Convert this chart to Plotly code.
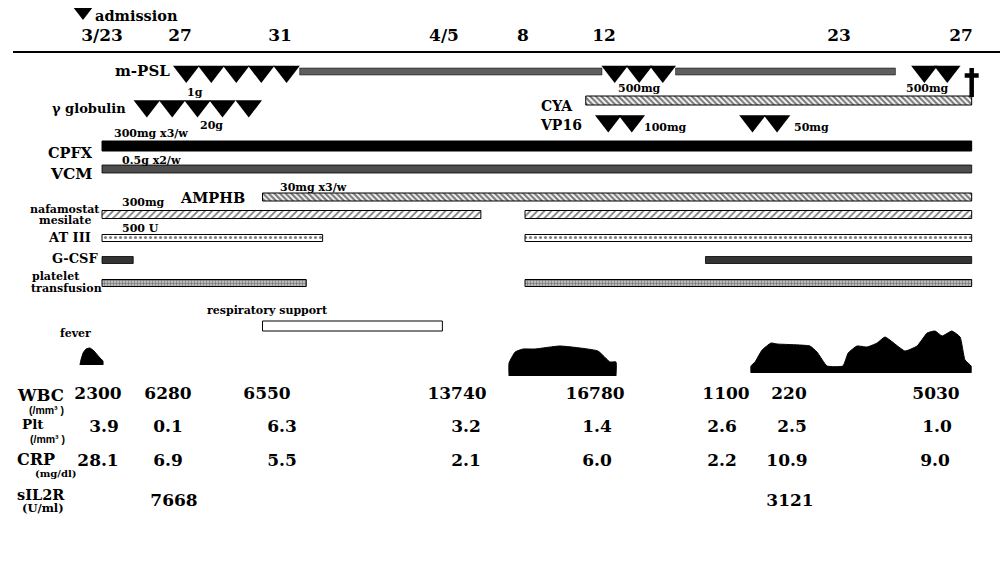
import numpy as np
import plotly.graph_objects as go

# ---------------- data (days counted from 3/23 = day 0) ----------------
TICK_DAYS = [0, 4, 8, 13, 16, 20, 31, 35]
TICK_TEXT = ["3/23", "27", "31", "4/5", "8", "12", "23", "27"]

MPSL_PULSE_DAYS = [4.25, 5.25, 6.25, 7.25, 8.2, 20.5, 21.65, 22.75, 33.8, 34.55]
MPSL_BAR_START = [8.6, 23.35]
MPSL_BAR_END = [19.9, 32.85]
GLOBULIN_DAYS = [2.3, 3.6, 4.7, 5.7, 6.75]
VP16_DAYS = [20.2, 21.3, 26.95, 28.1]
DEATH_DAY = 35.35

CYA_START, CYA_END = [19.1], [35.35]
CPFX_START, CPFX_END = [0], [35.35]
VCM_START, VCM_END = [0], [35.35]
AMPHB_START, AMPHB_END = [7.3], [35.35]
NAFA_START, NAFA_END = [0, 16.1], [14.4, 35.35]
AT3_START, AT3_END = [0, 16.1], [9.3, 35.35]
GCSF_START, GCSF_END = [0, 24.75], [1.6, 35.35]
PLTX_START, PLTX_END = [0, 16.1], [8.8, 35.35]
RESP_START, RESP_END = [7.3], [12.95]

# fever episodes: day and relative fever level
FEVER1_DAYS = [-1.13, -1.08, -0.97, -0.82, -0.62, -0.41, -0.15, 0.05, 0.05]
FEVER1_LEVEL = [0, 0.5, 1.2, 1.6, 1.7, 1.4, 0.8, 0.4, 0]
FEVER2_DAYS = [15.47, 15.47, 15.70, 16.0, 16.59, 17.83, 19.70, 20.28, 20.56, 20.56]
FEVER2_LEVEL = [0, 1.3, 2.4, 2.7, 2.7, 3.0, 2.5, 1.4, 1.4, 0]
FEVER3_DAYS = [26.88, 26.88, 27.07, 27.40, 27.82, 28.10, 29.64, 29.97, 30.44, 31.13, 31.30,
               31.59, 31.92, 32.25, 32.51, 33.16, 33.56, 33.89, 34.15, 34.38, 34.70, 34.97,
               35.13, 35.33, 35.33]
FEVER3_LEVEL = [0, 0.7, 1.1, 2.3, 3.0, 2.9, 2.7, 2.1, 0.7, 0.7, 2.0, 2.7, 2.6, 3.0, 3.6,
                2.2, 2.7, 4.0, 4.2, 3.7, 4.2, 3.6, 1.3, 0.7, 0]

WBC = [2300, 6280, 6550, 13740, 16780, 1100, 220, 5030]
PLT = [3.9, 0.1, 6.3, 3.2, 1.4, 2.6, 2.5, 1.0]
CRP = [28.1, 6.9, 5.5, 2.1, 6.0, 2.2, 10.9, 9.0]
SIL2R = [None, 7668, None, None, None, None, 3121, None]

# ---------------- layout constants (hand-drawn timeline scale) ----------------
TICK_X = [102, 180, 280, 444, 523, 604, 839, 961]
SERIF = "DejaVu Serif"
SANS = "Liberation Sans"


def sx(d):
    d = np.asarray(d, dtype=float)
    x = np.interp(d, TICK_DAYS, TICK_X)
    s0 = (TICK_X[1] - TICK_X[0]) / (TICK_DAYS[1] - TICK_DAYS[0])
    s1 = (TICK_X[-1] - TICK_X[-2]) / (TICK_DAYS[-1] - TICK_DAYS[-2])
    x = np.where(d < TICK_DAYS[0], TICK_X[0] + (d - TICK_DAYS[0]) * s0, x)
    x = np.where(d > TICK_DAYS[-1], TICK_X[-1] + (d - TICK_DAYS[-1]) * s1, x)
    return x


fig = go.Figure()


def add_bars(starts, ends, yc, h, color="white", pattern=None, line_w=1):
    x0 = sx(starts)
    x1 = sx(ends)
    marker = dict(color=color, line=dict(color="black", width=line_w))
    if pattern:
        marker["pattern"] = pattern
    fig.add_trace(go.Bar(orientation="h", y=[yc] * len(x0), x=x1 - x0, base=x0,
                         width=h, marker=marker, hoverinfo="skip", showlegend=False))


def add_tri(days, yc, size=23):
    fig.add_trace(go.Scatter(x=sx(days), y=[yc] * len(days), mode="markers",
                             marker=dict(symbol="triangle-down", size=size, color="black",
                                         line=dict(width=0)),
                             hoverinfo="skip", showlegend=False))


# bars
add_bars(MPSL_BAR_START, MPSL_BAR_END, 71.5, 7, color="#5e5e5e", line_w=0.5)
add_bars(CYA_START, CYA_END, 100.5, 9,
         pattern=dict(shape="\\", fgcolor="black", bgcolor="white", size=4, solidity=0.55))
add_bars(CPFX_START, CPFX_END, 146, 10, color="black")
add_bars(VCM_START, VCM_END, 169, 8, color="#4d4d4d", line_w=0.8)
add_bars(AMPHB_START, AMPHB_END, 197, 8,
         pattern=dict(shape="\\", fgcolor="black", bgcolor="white", size=4, solidity=0.6))
add_bars(NAFA_START, NAFA_END, 214.5, 8,
         pattern=dict(shape="/", fgcolor="black", bgcolor="white", size=5, solidity=0.35))
add_bars(AT3_START, AT3_END, 238, 7,
         pattern=dict(shape=".", fgcolor="black", bgcolor="white", size=5, solidity=0.3))
add_bars(GCSF_START, GCSF_END, 260, 7, color="#333333", line_w=0.8)
add_bars(PLTX_START, PLTX_END, 283, 7,
         pattern=dict(shape="+", fgcolor="#222222", bgcolor="#bbbbbb", size=3, solidity=0.35))
add_bars(RESP_START, RESP_END, 326, 10, color="white")

# pulses
add_tri(MPSL_PULSE_DAYS, 71.5)
add_tri(GLOBULIN_DAYS, 106)
add_tri(VP16_DAYS, 121)

# admission marker
fig.add_trace(go.Scatter(x=[83], y=[12], mode="markers",
                         marker=dict(symbol="triangle-down", size=16, color="black"),
                         hoverinfo="skip", showlegend=False))

# death dagger
xd = float(sx([DEATH_DAY])[0])
fig.add_trace(go.Scatter(x=[xd, xd, None, xd - 7, xd + 7], y=[68, 97, None, 75.5, 75.5],
                         mode="lines", line=dict(color="black", width=4.5),
                         hoverinfo="skip", showlegend=False))

# fever
for days, lev, base in [(FEVER1_DAYS, FEVER1_LEVEL, 365),
                        (FEVER2_DAYS, FEVER2_LEVEL, 376),
                        (FEVER3_DAYS, FEVER3_LEVEL, 373)]:
    fig.add_trace(go.Scatter(x=sx(days), y=[base - 10 * v for v in lev], mode="lines",
                             fill="toself", fillcolor="black",
                             line=dict(color="black", width=1, shape="spline", smoothing=0.4),
                             hoverinfo="skip", showlegend=False))

# lab table values
LAB_Y = {"WBC": 395, "PLT": 428, "CRP": 462, "SIL2R": 502}
LAB_X = {
    "WBC": [98, 168, 267, 457, 595, 726, 789, 936],
    "PLT": [104, 168, 282, 466, 597, 722, 792, 937],
    "CRP": [98, 168, 282, 466, 597, 722, 787, 935],
    "SIL2R": [98, 174, 282, 466, 597, 722, 790, 935],
}
for key, vals, fmt in [("WBC", WBC, "{:d}"), ("PLT", PLT, "{:.1f}"),
                       ("CRP", CRP, "{:.1f}"), ("SIL2R", SIL2R, "{:d}")]:
    xs, ts = [], []
    for x, v in zip(LAB_X[key], vals):
        if v is None:
            continue
        xs.append(x)
        ts.append(fmt.format(v))
    fig.add_trace(go.Scatter(x=xs, y=[LAB_Y[key]] * len(xs), mode="text", text=ts,
                             textposition="middle center",
                             textfont=dict(family=SERIF, size=17, color="black", weight="bold"),
                             hoverinfo="skip", showlegend=False))

# labels
LABELS = [
    ("admission", 93, 15, "left", 14.5, SERIF),
    ("m-PSL", 172, 71, "right", 15, SERIF),
    ("1g", 195, 92, "center", 11, SERIF),
    ("γ globulin", 128, 108, "right", 13, SERIF),
    ("20g", 211, 125, "center", 11, SERIF),
    ("500mg", 639, 88, "center", 11, SERIF),
    ("500mg", 927, 88, "center", 11, SERIF),
    ("CYA", 557, 106, "center", 14, SERIF),
    ("VP16", 561, 125, "center", 14, SERIF),
    ("100mg", 642, 127, "left", 11, SERIF),
    ("50mg", 792, 127, "left", 11, SERIF),
    ("300mg x3/w", 112, 133, "left", 11, SERIF),
    ("CPFX", 95, 152, "right", 14.5, SERIF),
    ("0.5g x2/w", 120, 160, "left", 11, SERIF),
    ("VCM", 95, 173, "right", 15.5, SERIF),
    ("30mg x3/w", 278, 187, "left", 11, SERIF),
    ("AMPHB", 212, 197, "center", 14.5, SERIF),
    ("300mg", 120, 202, "left", 11, SERIF),
    ("nafamostat", 102, 209, "right", 11, SERIF),
    ("mesilate", 93, 220, "right", 11, SERIF),
    ("500 U", 120, 228, "left", 11, SERIF),
    ("AT III", 93, 237, "right", 13, SERIF),
    ("G-CSF", 100, 258, "right", 13, SERIF),
    ("platelet", 30, 276, "left", 11, SERIF),
    ("transfusion", 29, 288, "left", 11, SERIF),
    ("respiratory support", 267, 310, "center", 11, SERIF),
    ("fever", 75, 333, "center", 11, SERIF),
    ("WBC", 15, 395, "left", 16.5, SERIF),
    ("(/mm³ )", 27, 410, "left", 10.5, SANS),
    ("Plt", 20, 424, "left", 13.5, SERIF),
    ("(/mm³ )", 28, 439, "left", 10.5, SANS),
    ("CRP", 15, 459, "left", 16, SERIF),
    ("(mg/dl)", 33, 473, "left", 10, SERIF),
    ("sIL2R", 15, 494, "left", 14.5, SERIF),
    ("(U/ml)", 20, 508, "left", 11.5, SERIF),
]
for text, x, y, xa, size, fam in LABELS:
    fig.add_annotation(x=x, y=y, text=text, showarrow=False, xanchor=xa, yanchor="middle",
                       font=dict(family=fam, size=size, color="black", weight="bold"))

fig.update_layout(
    width=1000, height=564,
    margin=dict(l=13, r=0, t=0, b=0),
    plot_bgcolor="white", paper_bgcolor="white",
    barmode="overlay", showlegend=False,
    xaxis=dict(range=[13, 1000], side="top", anchor="free", position=1 - 52 / 564,
               showline=True, linecolor="black", linewidth=2,
               tickvals=list(sx(TICK_DAYS)), ticktext=TICK_TEXT,
               ticks="outside", ticklen=3, tickcolor="rgba(0,0,0,0)",
               showgrid=False, zeroline=False, fixedrange=True,
               tickfont=dict(family=SERIF, size=17, color="black", weight="bold")),
    yaxis=dict(range=[564, 0], visible=False, showgrid=False, zeroline=False, fixedrange=True),
)

fig.write_html("out.html", config={"displayModeBar": False},
               post_script="document.body.style.margin='0';document.body.style.overflow='hidden';")
